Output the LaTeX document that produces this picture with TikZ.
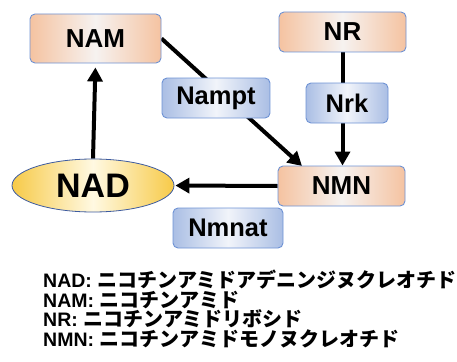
\documentclass[tikz,border=0pt]{standalone}
\usepackage{fontspec}
\setmainfont{Liberation Sans}
\newfontfamily\cjk{Noto Sans CJK JP}
\newfontfamily\lsbold{Liberation Sans Bold}
\usetikzlibrary{arrows.meta,backgrounds,shapes.geometric}
\definecolor{peach}{HTML}{F5C3A1}
\definecolor{peachmid}{HTML}{F6F2F0}
\definecolor{bluebox}{HTML}{AABEE4}
\definecolor{bluemid}{HTML}{F1F4FA}
\definecolor{boxedge}{HTML}{6E92D4}
\definecolor{yel}{HTML}{F7CA48}
\definecolor{yelmid}{HTML}{FFF9E2}
\definecolor{elledge}{HTML}{3D5BA0}
\tikzset{
  metab/.style={draw=boxedge, line width=0.9pt, rounded corners=5pt,
    left color=peach, right color=peach, middle color=peachmid,
    inner sep=0pt, font=\bfseries\fontsize{26}{26}\selectfont},
  enzyme/.style={draw=boxedge, line width=0.9pt, rounded corners=5pt,
    left color=bluebox, right color=bluebox, middle color=bluemid,
    minimum height=40pt, inner sep=0pt, font=\bfseries\fontsize{25.5}{26}\selectfont},
  nadstyle/.style={ellipse, draw=elledge, line width=0.8pt,
    left color=yel, right color=yel, middle color=yelmid,
    minimum width=162pt, minimum height=53pt, inner sep=0pt,
    font=\bfseries\fontsize{34}{34}\selectfont},
  arr/.style={line width=4pt, -{Triangle[length=14pt,width=15pt]}},
  legend/.style={anchor=base west, inner sep=0pt, font=\lsbold\fontsize{19.5}{20}\selectfont},
}
\newcommand{\jpt}[1]{{\cjk\bfseries\fontsize{20}{20}\selectfont #1}}
\begin{document}
\begin{tikzpicture}[x=1pt, y=-1pt]
\useasboundingbox (0,0) rectangle (457,361);
\node[metab, minimum width=131pt, minimum height=49pt] (NAM) at (95.5,38.5) {NAM};
\node[metab, minimum width=127pt, minimum height=40pt] (NR) at (342.5,32) {NR};
\node[metab, minimum width=127pt, minimum height=40pt] (NMN) at (341.5,186) {NMN};
\node[enzyme, minimum width=82pt] (Nrk) at (347,103) {Nrk};
\node[enzyme, minimum width=108pt] (Nampt) at (216,98) {Nampt};
\node[enzyme, minimum width=110pt] (Nmnat) at (228,228) {Nmnat};
\node[nadstyle] (NAD) at (93,185.5) {NAD};
\coordinate (nmntop) at (302,166);
\begin{scope}[on background layer]
\draw[arr, shorten >=4pt] (NAD.north) -- (NAM.south);
\draw[arr] (NAM.east) -- (nmntop);
\draw[arr] (NR.south) -- (NR.south |- NMN.north);
\draw[arr, shorten >=1pt] (NMN.west) -- (NAD.east);
\end{scope}
\node[legend] (l1) at (43,287) {NAD: \jpt{ニコチンアミドアデニンジヌクレオチド}};
\node[legend] (l2) at (43,307) {NAM: \jpt{ニコチンアミド}};
\node[legend] (l3) at (43,326.5) {NR: \jpt{ニコチンアミドリボシド}};
\node[legend] (l4) at (43,346.5) {NMN: \jpt{ニコチンアミドモノヌクレオチド}};
\end{tikzpicture}
\end{document}
